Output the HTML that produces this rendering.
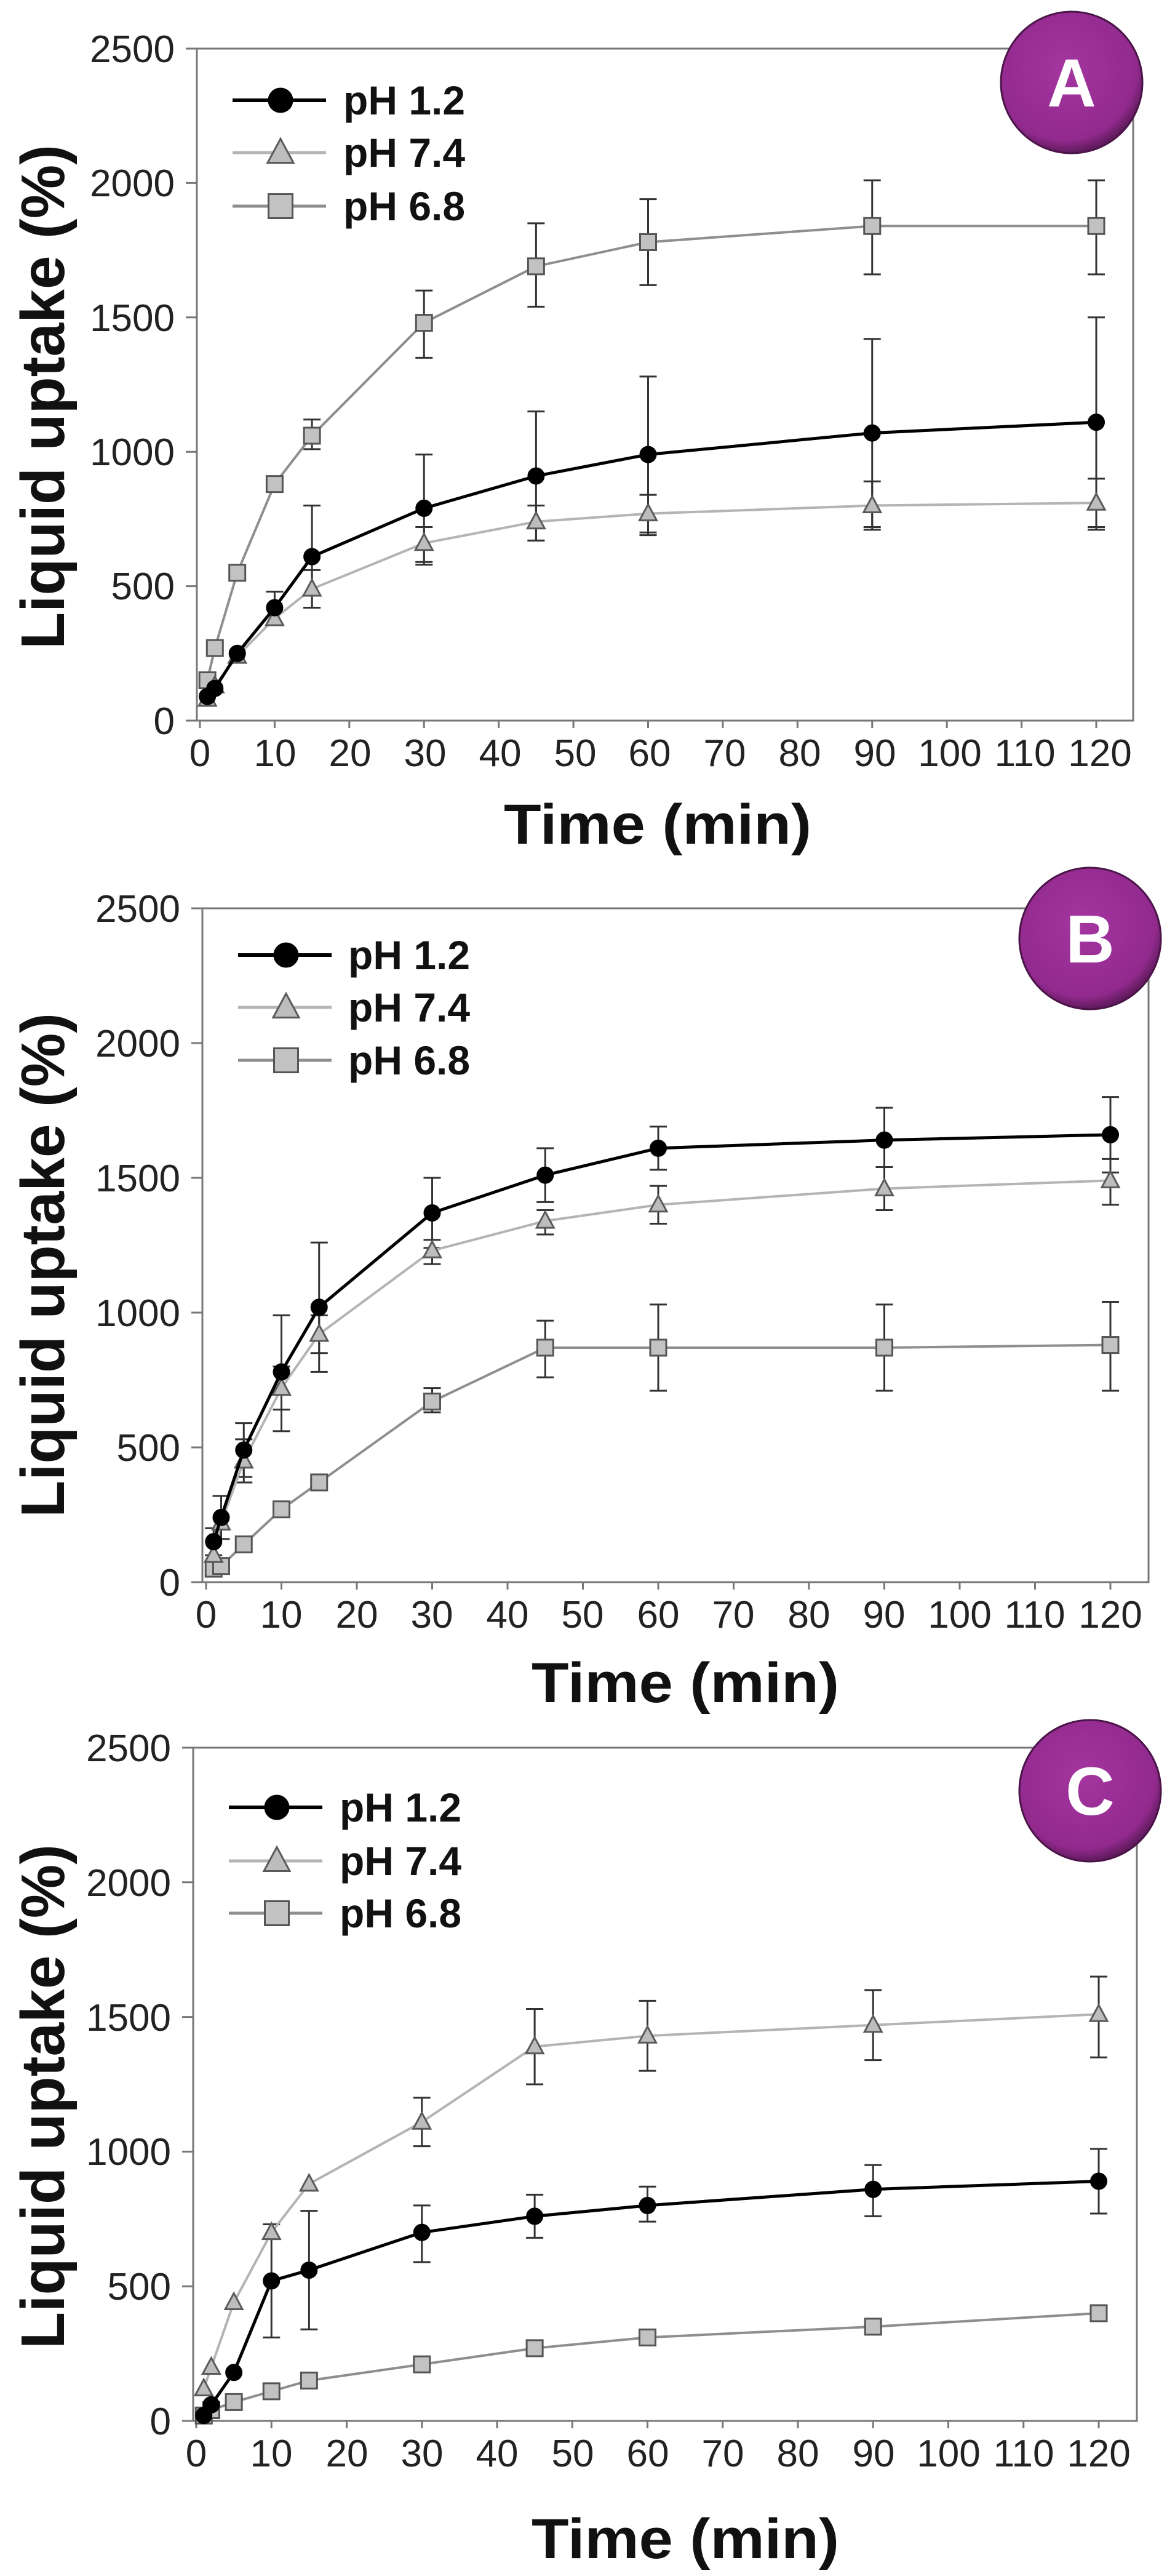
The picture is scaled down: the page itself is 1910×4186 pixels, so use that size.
<!DOCTYPE html>
<html><head><meta charset="utf-8"><style>
html,body{margin:0;padding:0;background:#fff;}
svg{display:block;}
.t{font-family:"Liberation Sans",sans-serif;font-size:62px;fill:#222;}
.lg{font-family:"Liberation Sans",sans-serif;font-weight:bold;font-size:66px;fill:#111;}
.ax{font-family:"Liberation Sans",sans-serif;font-weight:bold;fill:#111;}
.ci{font-family:"Liberation Sans",sans-serif;font-weight:bold;font-size:110px;fill:#fff;}
</style></head><body>
<svg id="s" width="1910" height="4186" viewBox="0 0 1910 4186" xmlns="http://www.w3.org/2000/svg">
<defs>
<radialGradient id="pg" cx="45%" cy="40%" r="60%"><stop offset="0" stop-color="#a4359f"/><stop offset="0.85" stop-color="#922a8e"/><stop offset="1" stop-color="#5e1a5b"/></radialGradient>
</defs>
<g id="pA" transform="translate(320,79)">
<rect x="0" y="0" width="1522" height="1092" fill="none" stroke="#777" stroke-width="3"/>
<g class="t" text-anchor="end"><text x="-36" y="1114">0</text><text x="-36" y="895">500</text><text x="-36" y="677">1000</text><text x="-36" y="459">1500</text><text x="-36" y="240">2000</text><text x="-36" y="22">2500</text></g>
<g class="t" text-anchor="middle"><text x="5" y="1166">0</text><text x="127" y="1166">10</text><text x="249" y="1166">20</text><text x="371" y="1166">30</text><text x="493" y="1166">40</text><text x="615" y="1166">50</text><text x="736" y="1166">60</text><text x="858" y="1166">70</text><text x="980" y="1166">80</text><text x="1102" y="1166">90</text><text x="1224" y="1166">100</text><text x="1346" y="1166">110</text><text x="1468" y="1166">120</text></g>
<text class="ax" font-size="100" text-anchor="middle" transform="translate(-216,566) rotate(-90)" textLength="820" lengthAdjust="spacingAndGlyphs">Liquid uptake (%)</text>
<text class="ax" font-size="92" x="749" y="1292" text-anchor="middle" textLength="500" lengthAdjust="spacingAndGlyphs">Time (min)</text>
<g class="lg"><text x="238" y="107">pH 1.2</text><text x="238" y="192">pH 7.4</text><text x="238" y="279">pH 6.8</text></g>
</g>
<g id="pB" transform="translate(329,1476)">
<rect x="0" y="0" width="1538" height="1095" fill="none" stroke="#777" stroke-width="3"/>
<g class="t" text-anchor="end"><text x="-36" y="1117">0</text><text x="-36" y="898">500</text><text x="-36" y="679">1000</text><text x="-36" y="460">1500</text><text x="-36" y="241">2000</text><text x="-36" y="22">2500</text></g>
<g class="t" text-anchor="middle"><text x="6" y="1169">0</text><text x="128" y="1169">10</text><text x="251" y="1169">20</text><text x="373" y="1169">30</text><text x="496" y="1169">40</text><text x="618" y="1169">50</text><text x="741" y="1169">60</text><text x="863" y="1169">70</text><text x="986" y="1169">80</text><text x="1108" y="1169">90</text><text x="1231" y="1169">100</text><text x="1353" y="1169">110</text><text x="1476" y="1169">120</text></g>
<text class="ax" font-size="100" text-anchor="middle" transform="translate(-225,580) rotate(-90)" textLength="820" lengthAdjust="spacingAndGlyphs">Liquid uptake (%)</text>
<text class="ax" font-size="92" x="785" y="1290" text-anchor="middle" textLength="500" lengthAdjust="spacingAndGlyphs">Time (min)</text>
<g class="lg"><text x="237" y="99">pH 1.2</text><text x="237" y="184">pH 7.4</text><text x="237" y="270">pH 6.8</text></g>
</g>
<g id="pC" transform="translate(314,2840)">
<rect x="0" y="0" width="1534" height="1094" fill="none" stroke="#777" stroke-width="3"/>
<g class="t" text-anchor="end"><text x="-36" y="1116">0</text><text x="-36" y="897">500</text><text x="-36" y="678">1000</text><text x="-36" y="460">1500</text><text x="-36" y="241">2000</text><text x="-36" y="22">2500</text></g>
<g class="t" text-anchor="middle"><text x="5" y="1168">0</text><text x="127" y="1168">10</text><text x="250" y="1168">20</text><text x="372" y="1168">30</text><text x="494" y="1168">40</text><text x="617" y="1168">50</text><text x="739" y="1168">60</text><text x="861" y="1168">70</text><text x="983" y="1168">80</text><text x="1106" y="1168">90</text><text x="1228" y="1168">100</text><text x="1350" y="1168">110</text><text x="1472" y="1168">120</text></g>
<text class="ax" font-size="100" text-anchor="middle" transform="translate(-210,567) rotate(-90)" textLength="820" lengthAdjust="spacingAndGlyphs">Liquid uptake (%)</text>
<text class="ax" font-size="92" x="800" y="1317" text-anchor="middle" textLength="500" lengthAdjust="spacingAndGlyphs">Time (min)</text>
<g class="lg"><text x="238" y="120">pH 1.2</text><text x="238" y="207">pH 7.4</text><text x="238" y="292">pH 6.8</text></g>
</g>
<g><circle cx="1742" cy="134" r="115" fill="url(#pg)" stroke="#4a1448" stroke-width="3"/><text class="ci" x="1742" y="173" text-anchor="middle">A</text></g>
<g><circle cx="1772" cy="1525" r="115" fill="url(#pg)" stroke="#4a1448" stroke-width="3"/><text class="ci" x="1772" y="1564" text-anchor="middle">B</text></g>
<g><circle cx="1772" cy="2910" r="115" fill="url(#pg)" stroke="#4a1448" stroke-width="3"/><text class="ci" x="1772" y="2949" text-anchor="middle">C</text></g>
</svg>
<script>
(function(){
var NS="http://www.w3.org/2000/svg";
function el(p,n,a){var e=document.createElementNS(NS,n);for(var k in a)e.setAttribute(k,a[k]);p.appendChild(e);return e;}
var T=[1,2,5,10,15,30,45,60,90,120];
var P=[
 {id:"pA",w:1522,h:1092,x0:5,x1:1462,leg:[84,169,256],
  s:[
   [[90],[120],[250],[420,null,480,360],[610,null,800,420],[790,null,990,590],[910,null,1150,670],[990,null,1280,700],[1070,null,1420,720],[1110,null,1500,720]],
   [[80],[130],[240],[380],[490,null,560,420],[660,null,720,580],[740,null,800,670],[770,null,840,690],[800,null,890,710],[810,null,900,710]],
   [[150],[270],[550],[880],[1060,null,1120,1010],[1480,null,1600,1350],[1690,null,1850,1540],[1780,null,1940,1620],[1840,null,2010,1660],[1840,null,2010,1660]]
  ]},
 {id:"pB",w:1538,h:1095,x0:6,x1:1476,leg:[76,161,247],
  s:[
   [[150,null,200,100],[240,null,320,160],[490,null,590,390],[780,null,990,560],[1020,null,1260,780],[1370,null,1500,1240],[1510,null,1610,1410],[1610,null,1690,1530],[1640,null,1760,1540],[1660,null,1800,1520]],
   [[100],[220],[450,null,530,370],[720,null,800,640],[920,null,990,850],[1230,null,1270,1180],[1340,null,1380,1290],[1400,null,1470,1330],[1460,null,1540,1380],[1490,null,1570,1400]],
   [[50],[60],[140],[270],[370],[670,null,720,630],[870,null,970,760],[870,null,1030,710],[870,null,1030,710],[880,null,1040,710]]
  ]},
 {id:"pC",w:1534,h:1094,x0:5,x1:1472,leg:[97,184,269],
  s:[
   [[20],[60],[180],[520,null,730,310],[560,null,780,340],[700,null,800,590],[760,null,840,680],[800,null,870,740],[860,null,950,760],[890,null,1010,770]],
   [[120],[200],[440],[700],[880],[1110,null,1200,1020],[1390,null,1530,1250],[1430,null,1560,1300],[1470,null,1600,1340],[1510,null,1650,1350]],
   [[20],[40],[70],[110],[150],[210],[270],[310],[350],[400]]
  ]}
];
var sty=[{line:"#000",lw:5,fill:"#000",st:"#000",m:"c"},{line:"#b4b4b4",lw:4,fill:"#bdbdbd",st:"#5a5a5a",m:"t"},{line:"#8e8e8e",lw:4,fill:"#c2c2c2",st:"#555",m:"s"}];
function mark(g,sc,x,y,S){
 if(S.m=="c")el(g,"circle",{cx:x,cy:y,r:13*sc,fill:S.fill,stroke:S.st,"stroke-width":2});
 else if(S.m=="t")el(g,"polygon",{points:(x)+","+(y-15*sc)+" "+(x-14*sc)+","+(y+11*sc)+" "+(x+14*sc)+","+(y+11*sc),fill:S.fill,stroke:S.st,"stroke-width":3});
 else el(g,"rect",{x:x-13*sc,y:y-13*sc,width:26*sc,height:26*sc,fill:S.fill,stroke:S.st,"stroke-width":3});
}
P.forEach(function(p){
 var g=document.getElementById(p.id);
 var X=function(t){return p.x0+t*(p.x1-p.x0)/120;};
 var Y=function(v){return p.h-v*p.h/2500;};
 for(var k=0;k<=12;k++){var x=X(k*10);el(g,"line",{x1:x,y1:p.h,x2:x,y2:p.h+12,stroke:"#777","stroke-width":3});}
 for(var k=0;k<=5;k++){var y=Y(k*500);el(g,"line",{x1:-18,y1:y,x2:0,y2:y,stroke:"#777","stroke-width":3});}
 p.s.forEach(function(ser,i){ser.forEach(function(d,j){if(d.length>2){var x=X(T[j]);
  el(g,"line",{x1:x,y1:Y(d[2]),x2:x,y2:Y(d[3]),stroke:"#333","stroke-width":3});
  el(g,"line",{x1:x-14,y1:Y(d[2]),x2:x+14,y2:Y(d[2]),stroke:"#333","stroke-width":3});
  el(g,"line",{x1:x-14,y1:Y(d[3]),x2:x+14,y2:Y(d[3]),stroke:"#333","stroke-width":3});}});});
 [2,1,0].forEach(function(i){var S=sty[i],ser=p.s[i];
  var pts=ser.map(function(d,j){return X(T[j])+","+Y(d[0]);}).join(" ");
  el(g,"polyline",{points:pts,fill:"none",stroke:S.line,"stroke-width":S.lw});
  ser.forEach(function(d,j){mark(g,1,X(T[j]),Y(d[0]),S);});
 });
 p.leg.forEach(function(y,i){var S=sty[i];
  el(g,"line",{x1:58,y1:y,x2:210,y2:y,stroke:S.line,"stroke-width":S.lw+1});
  mark(g,1.5,136,y,S);
 });
});
})();
</script>
</body></html>
